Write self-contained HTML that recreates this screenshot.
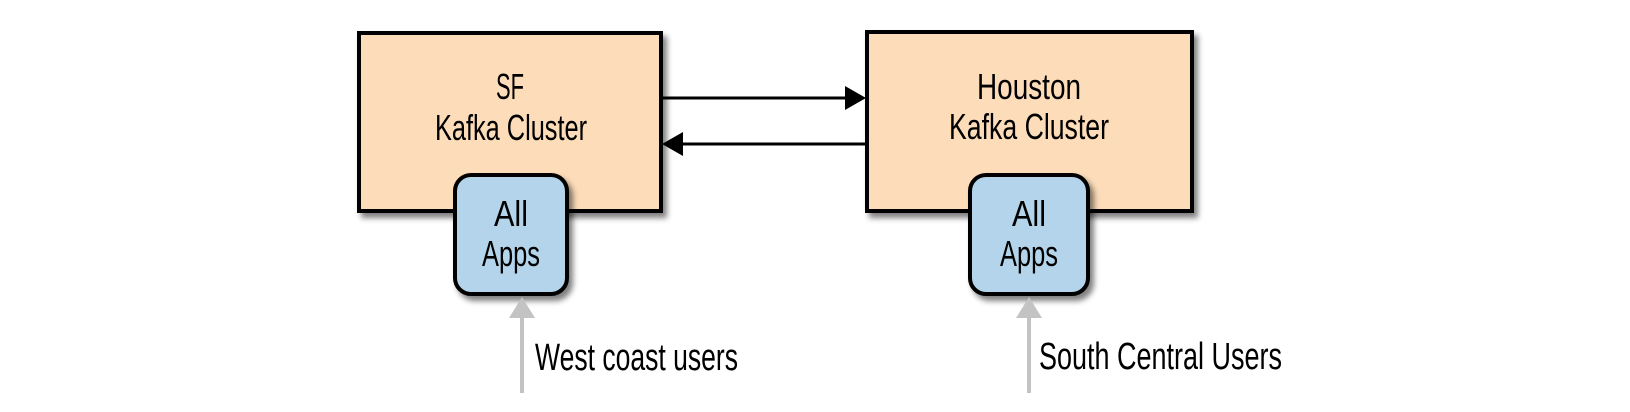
<!DOCTYPE html>
<html><head><style>html,body{margin:0;padding:0;background:#fff}svg{display:block}</style></head>
<body>
<svg width="1630" height="412" viewBox="0 0 1630 412" xmlns="http://www.w3.org/2000/svg" font-family="'Liberation Sans Narrow','Liberation Sans',sans-serif" fill="#000">
<defs>
<filter id="sh" x="-10%" y="-10%" width="130%" height="130%"><feGaussianBlur in="SourceAlpha" stdDeviation="3"/><feOffset dx="4" dy="5"/><feComponentTransfer><feFuncA type="linear" slope="0.5"/></feComponentTransfer><feMerge><feMergeNode/><feMergeNode in="SourceGraphic"/></feMerge></filter>
</defs>
<rect x="359" y="33" width="302" height="178" fill="#fcdcb9" stroke="#000" stroke-width="4" filter="url(#sh)"/>
<rect x="867" y="32" width="325" height="179" fill="#fcdcb9" stroke="#000" stroke-width="4" filter="url(#sh)"/>
<rect x="455" y="175" width="112" height="119" rx="16" fill="#b3d4ea" stroke="#000" stroke-width="4" filter="url(#sh)"/>
<rect x="970" y="175" width="118" height="119" rx="16" fill="#b3d4ea" stroke="#000" stroke-width="4" filter="url(#sh)"/>
<line x1="662" y1="98" x2="848" y2="98" stroke="#000" stroke-width="3"/>
<polygon points="845,86 866,98 845,110"/>
<line x1="682" y1="144" x2="866" y2="144" stroke="#000" stroke-width="3"/>
<polygon points="683,132 662,144 683,156"/>
<line x1="522" y1="310" x2="522" y2="393" stroke="#c3c3c3" stroke-width="4"/>
<polygon points="509,318 522,297 535,318" fill="#c3c3c3"/>
<line x1="1029" y1="310" x2="1029" y2="393" stroke="#c3c3c3" stroke-width="4"/>
<polygon points="1016,318 1029,297 1042,318" fill="#c3c3c3"/>
<g font-size="36" text-anchor="middle">
<text x="510" y="99" textLength="28" lengthAdjust="spacingAndGlyphs">SF</text>
<text x="511" y="140" textLength="152" lengthAdjust="spacingAndGlyphs">Kafka Cluster</text>
<text x="1029" y="99" textLength="104" lengthAdjust="spacingAndGlyphs">Houston</text>
<text x="1029" y="139" textLength="160" lengthAdjust="spacingAndGlyphs">Kafka Cluster</text>
<text x="511" y="226" textLength="34" lengthAdjust="spacingAndGlyphs">All</text>
<text x="511" y="266" textLength="58" lengthAdjust="spacingAndGlyphs">Apps</text>
<text x="1029" y="226" textLength="34" lengthAdjust="spacingAndGlyphs">All</text>
<text x="1029" y="266" textLength="58" lengthAdjust="spacingAndGlyphs">Apps</text>
</g>
<g font-size="38">
<text x="535" y="370" textLength="203" lengthAdjust="spacingAndGlyphs">West coast users</text>
<text x="1039" y="369" textLength="243" lengthAdjust="spacingAndGlyphs">South Central Users</text>
</g>
</svg>
</body></html>
